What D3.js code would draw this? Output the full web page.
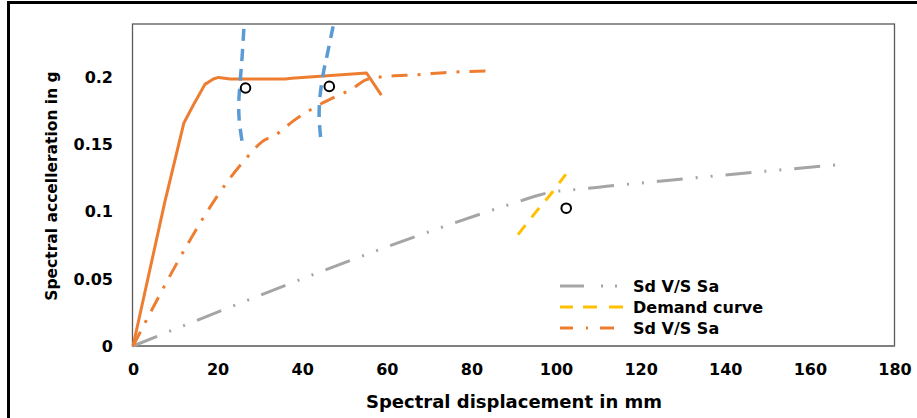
<!DOCTYPE html>
<html>
<head>
<meta charset="utf-8">
<script src="https://cdn.jsdelivr.net/npm/d3@7/dist/d3.min.js"></script>
<style>
  html, body { margin: 0; padding: 0; background: #fff; }
  svg { display: block; }
  text { font-family: "DejaVu Sans", Verdana, sans-serif; font-weight: bold; fill: #000; }
</style>
</head>
<body>
<svg id="chart" width="917" height="418"></svg>
<script>
// ---- Data ----
const xTicks = [0, 20, 40, 60, 80, 100, 120, 140, 160, 180];
const yTicks = [0, 0.05, 0.1, 0.15, 0.2];
const yTickLabels = ["0", "0.05", "0.1", "0.15", "0.2"];

// Capacity curve (solid orange)
const capX = [0, 7.5, 12, 14.5, 17, 19, 20.2, 23, 36, 37.5, 55.2, 58.7];
const capY = [0, 0.107, 0.166, 0.181, 0.195, 0.199, 0.2002, 0.199, 0.199, 0.1995, 0.2035, 0.187];

// Sd V/S Sa (orange dash-dot)
const sd2X = [0, 26.5, 30.4, 34, 38, 43, 48, 51.5, 55.2, 60, 67, 75, 85.2];
const sd2Y = [0, 0.139, 0.152, 0.158, 0.168, 0.178, 0.186, 0.191, 0.1985, 0.201, 0.2022, 0.204, 0.205];

// Sd V/S Sa (gray dash-dot-dot)
const sd1X = [0, 90, 96, 99, 102.4, 106, 112, 125, 140, 155, 168];
const sd1Y = [0, 0.1065, 0.1125, 0.1148, 0.116, 0.117, 0.119, 0.123, 0.1275, 0.1318, 0.1355];

// Demand curve (yellow dashed)
const demX = [91, 95.4, 99.2, 102.3];
const demY = [0.083, 0.1005, 0.115, 0.128];

// Blue dashed lines
const blue1X = [26.2, 25.8, 25.4, 25.0, 25.1, 25.9];
const blue1Y = [0.2363, 0.2159, 0.1998, 0.1811, 0.1687, 0.150];
const blue2X = [47.3, 46.0, 45.0, 44.2, 44.0, 44.4];
const blue2Y = [0.2383, 0.2184, 0.2035, 0.186, 0.1711, 0.1537];

// Performance points (open circles)
const ptX = [26.6, 46.4, 102.4];
const ptY = [0.1923, 0.1935, 0.1027];

const legendLabels = ["Sd V/S Sa", "Demand curve", "Sd V/S Sa"];

// ---- Layout ----
const svg = d3.select("#chart");
const L = 133, R = 894.5, T = 24, B = 346;
const x = d3.scaleLinear().domain([0, 180]).range([L, R]);
const y = d3.scaleLinear().domain([0, 0.24]).range([B, T]);

// Outer frame (only top and left visible)
svg.append("rect").attr("x", 8.5).attr("y", 2.5).attr("width", 1000).attr("height", 1000)
  .attr("fill", "none").attr("stroke", "#000").attr("stroke-width", 3);

// Plot area frame
svg.append("rect").attr("x", L - 0.5).attr("y", T).attr("width", R - L + 0.5).attr("height", B - T)
  .attr("fill", "none").attr("stroke", "#595959").attr("stroke-width", 1.3);
svg.append("line").attr("x1", L).attr("x2", R).attr("y1", B).attr("y2", B)
  .attr("stroke", "#7f7f7f").attr("stroke-width", 2);

// Axes (labels only)
const xAxis = svg.append("g").attr("transform", `translate(0,${B})`)
  .call(d3.axisBottom(x).tickValues(xTicks).tickSize(0).tickPadding(18).tickFormat(d3.format("d")));
xAxis.select(".domain").remove();
xAxis.selectAll("text").style("font-size", "16px").style("font-family", "DejaVu Sans").style("font-weight", "bold");

const yAxis = svg.append("g").attr("transform", `translate(${L},0)`)
  .call(d3.axisLeft(y).tickValues(yTicks).tickSize(0).tickPadding(20).tickFormat((d, i) => yTickLabels[i]));
yAxis.select(".domain").remove();
yAxis.selectAll("text").style("font-size", "16px").style("font-family", "DejaVu Sans").style("font-weight", "bold");

// Axis titles
svg.append("text").attr("x", 514).attr("y", 408).attr("text-anchor", "middle")
  .style("font-size", "18px").text("Spectral displacement in mm");
svg.append("text").attr("transform", "translate(57,186) rotate(-90)").attr("text-anchor", "middle")
  .style("font-size", "15.5px").text("Spectral accelleration in g");

// Lines
const zip = (xs, ys) => xs.map((v, i) => [v, ys[i]]);
const line = d3.line().x(d => x(d[0])).y(d => y(d[1]));
const smooth = d3.line().x(d => x(d[0])).y(d => y(d[1])).curve(d3.curveMonotoneX);
const vsmooth = d3.line().x(d => x(d[0])).y(d => y(d[1])).curve(d3.curveCatmullRom);

const plot = svg.append("g");

plot.append("path").attr("d", smooth(zip(sd1X, sd1Y)))
  .attr("fill", "none").attr("stroke", "#A5A5A5").attr("stroke-width", 3)
  .attr("stroke-dasharray", "26,13,2,13,2,13");

plot.append("path").attr("d", smooth(zip(sd2X, sd2Y)))
  .attr("fill", "none").attr("stroke", "#ED7D31").attr("stroke-width", 3)
  .attr("stroke-dasharray", "16,10,3,10");

plot.append("path").attr("d", line(zip(capX, capY)))
  .attr("fill", "none").attr("stroke", "#ED7D31").attr("stroke-width", 3)
  .attr("stroke-linejoin", "round");

plot.append("path").attr("d", smooth(zip(demX, demY)))
  .attr("fill", "none").attr("stroke", "#FFC000").attr("stroke-width", 3)
  .attr("stroke-dasharray", "12,10");

[[blue1X, blue1Y], [blue2X, blue2Y]].forEach(([bx, by]) => {
  plot.append("path").attr("d", vsmooth(zip(bx, by)))
    .attr("fill", "none").attr("stroke", "#5B9BD5").attr("stroke-width", 3.5)
    .attr("stroke-dasharray", "12,8");
});

plot.selectAll("circle.pt").data(zip(ptX, ptY)).enter().append("circle")
  .attr("class", "pt").attr("cx", d => x(d[0])).attr("cy", d => y(d[1])).attr("r", 4.8)
  .attr("fill", "#fff").attr("stroke", "#000").attr("stroke-width", 2);

// Legend
const legStyles = [
  { color: "#A5A5A5", dash: "24,17,2,12,2,100" },
  { color: "#FFC000", dash: "13,10,14,12,14,100" },
  { color: "#ED7D31", dash: "13,13,2,12,14,100" }
];
const legY = [286, 307, 328];
const leg = svg.append("g");
legendLabels.forEach((lab, i) => {
  leg.append("line").attr("x1", 560).attr("x2", 623).attr("y1", legY[i]).attr("y2", legY[i])
    .attr("stroke", legStyles[i].color).attr("stroke-width", 3).attr("stroke-dasharray", legStyles[i].dash);
  leg.append("text").attr("x", 633).attr("y", legY[i] + 6).style("font-size", "16px").text(lab);
});
</script>
</body>
</html>
